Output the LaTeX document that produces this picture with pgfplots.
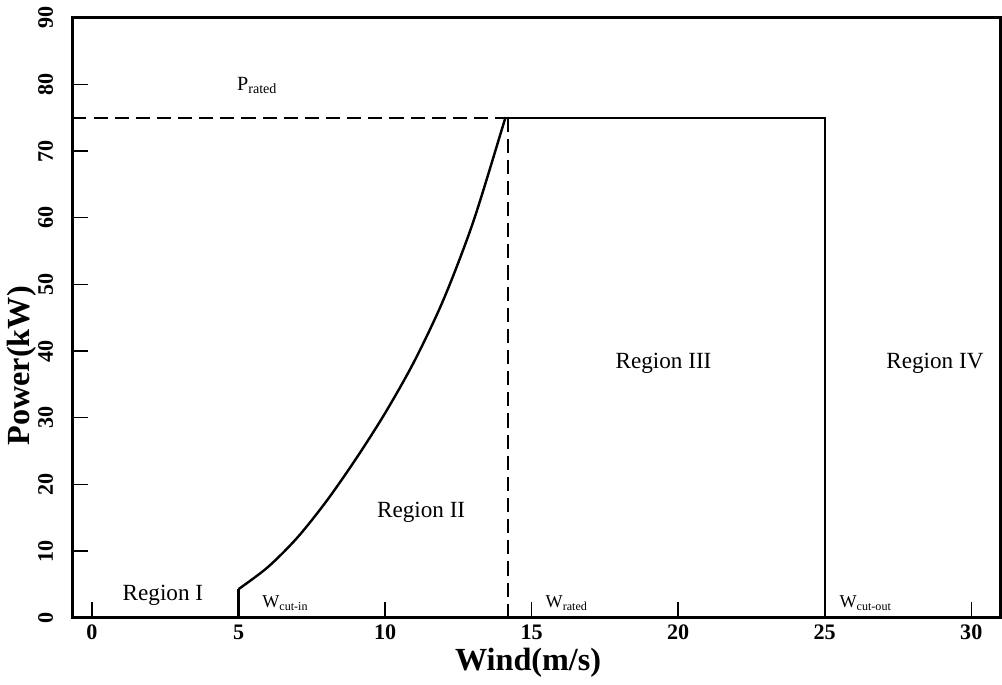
\documentclass[border=0pt]{standalone}
\usepackage{fontspec}
\setmainfont{Liberation Serif}
\usepackage{pgfplots}
\pgfplotsset{compat=1.18}
\begin{document}
\begin{tikzpicture}
\begin{axis}[
  scale only axis, width=461pt, height=298pt,
  xmin=-0.67, xmax=31, ymin=0, ymax=90,
  axis line style={line width=1.4pt, black},
  xtick={0,5,...,30}, ytick={0,10,...,90},
  tick align=inside, xtick pos=bottom, ytick pos=left,
  major tick length=8pt, tick style={line width=0.7pt, black},
  /pgf/number format/assume math mode=true,
  ticklabel style={font=\bfseries\fontsize{11}{13}\selectfont},
  yticklabel style={rotate=90, anchor=south},
  yticklabel shift=6pt,
  xticklabel shift=0pt,
  xlabel={Wind(m/s)}, ylabel={Power(kW)},
  label style={font=\bfseries\fontsize{16}{18}\selectfont},
  xlabel style={at={(axis description cs:0.491,-0.075)}, anchor=center},
  ylabel style={at={(axis description cs:-0.055,0.42)}, anchor=center},
  clip=false,
]
\addplot[black, line width=1.2pt] coordinates {
  (-0.5,0) (5,0) (5,4.3)
};
\addplot[black, line width=1.2pt, smooth] coordinates {
  (5,4.3) (6,7.6) (7,12.0) (8,17.5) (9,23.8) (10,30.7)
  (11,38.5) (12,47.8) (13,59.3) (14,73.5) (14.1,75)
};
\addplot[black, line width=1.2pt] coordinates {
  (14.1,75) (25,75) (25,0) (31,0)
};
\addplot[black, line width=0.8pt, dash pattern=on 7pt off 3.5pt] coordinates {(-0.67,75) (14.1,75)};
\addplot[black, line width=0.8pt, dash pattern=on 7pt off 3.5pt] coordinates {(14.2,0) (14.2,75)};
\begin{scope}[font=\fontsize{11.5}{13}\selectfont]
\node at (axis cs:2.42,3.4) {Region I};
\node at (axis cs:11.23,15.8) {Region II};
\node at (axis cs:19.5,38.2) {Region III};
\node at (axis cs:28.76,38.2) {Region IV};
\end{scope}
\begin{scope}[font=\fontsize{9}{10}\selectfont]
\node at (axis cs:5.64,79.9) {\fontsize{10}{11}\selectfont P\textsubscript{rated}};
\node at (axis cs:6.6,2.2) {W\textsubscript{cut-in}};
\node at (axis cs:16.2,2.2) {W\textsubscript{rated}};
\node at (axis cs:26.4,2.2) {W\textsubscript{cut-out}};
\end{scope}
\end{axis}
\end{tikzpicture}
\end{document}
